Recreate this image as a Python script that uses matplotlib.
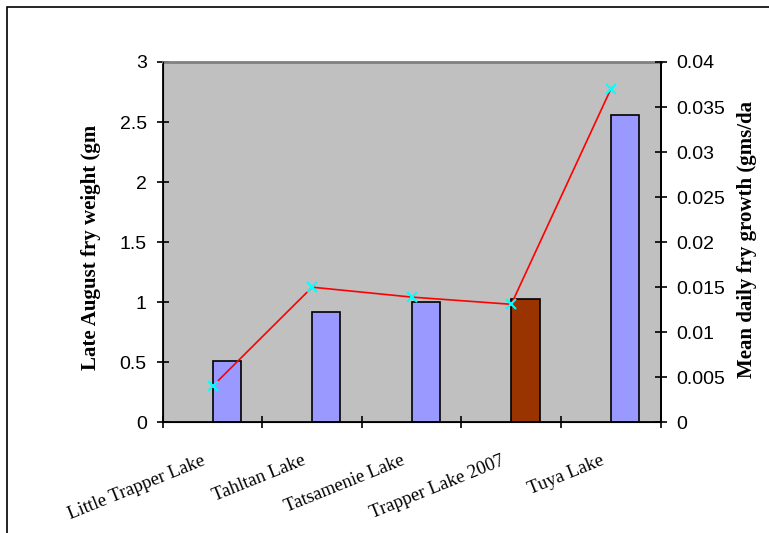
import matplotlib
matplotlib.use("Agg")
import matplotlib.pyplot as plt
from matplotlib.patches import Rectangle

# Lake data
lakes = ["Little Trapper Lake", "Tahltan Lake", "Tatsamenie Lake",
         "Trapper Lake 2007", "Tuya Lake"]
fry_weight = [0.51, 0.92, 1.00, 1.03, 2.56]          # gm, left axis
daily_growth = [0.0040, 0.0150, 0.0139, 0.0131, 0.0370]  # gms/day, right axis
weight_ticks = [0, 0.5, 1, 1.5, 2, 2.5, 3]
weight_tick_labels = ["0", "0.5", "1", "1.5", "2", "2.5", "3"]
growth_ticks = [0, 0.005, 0.01, 0.015, 0.02, 0.025, 0.03, 0.035, 0.04]
growth_tick_labels = ["0", "0.005", "0.01", "0.015", "0.02", "0.025",
                      "0.03", "0.035", "0.04"]

highlight = "Trapper Lake 2007"
bar_colors = ["#993300" if lake == highlight else "#9999FF" for lake in lakes]

SANS = "Liberation Sans"
SERIF = "Liberation Serif"

fig = plt.figure(figsize=(7.69, 5.33), dpi=100)

# outer chart border (runs off right/bottom like the screenshot)
fig.patches.append(Rectangle((7 / 769, -0.1), 1.2, (533 - 7) / 533 + 0.1,
                             transform=fig.transFigure, fill=False,
                             edgecolor="black", linewidth=1.2))

ax = fig.add_axes([0.2116, 0.2077, 0.6475, 0.676])
ax.set_facecolor("#C0C0C0")

x = list(range(len(lakes)))
ax.bar(x, fry_weight, width=0.285, align="edge", color=bar_colors,
       edgecolor="black", linewidth=1.2, zorder=2)

ax.set_xlim(-0.5, len(lakes) - 0.5)
ax.set_ylim(0, 3)
ax.set_yticks(weight_ticks, weight_tick_labels, fontfamily=SANS, fontsize=14)
ax.set_xticks([i - 0.5 for i in range(len(lakes) + 1)], [""] * (len(lakes) + 1))
ax.tick_params(axis="both", direction="inout", length=9, width=1.2, pad=7)

for i, lake in enumerate(lakes):
    ax.text(i - 0.06, -0.117, lake, transform=ax.get_xaxis_transform(),
            rotation=22, rotation_mode="anchor", ha="right", va="baseline",
            fontfamily=SERIF, fontsize=13.5)

for side in ("left", "bottom", "right"):
    ax.spines[side].set_color("black")
    ax.spines[side].set_linewidth(1.3)
ax.spines["top"].set_color("#808080")
ax.spines["top"].set_linewidth(2)

ax2 = ax.twinx()
ax2.plot(x, daily_growth, color="red", linewidth=1.2, marker="x",
         markersize=7, markeredgecolor="#00FFFF", markeredgewidth=1.5,
         zorder=3)
ax2.set_ylim(0, 0.04)
ax2.set_yticks(growth_ticks, growth_tick_labels, fontfamily=SANS, fontsize=14)
ax2.tick_params(axis="y", direction="inout", length=9, width=1.2, pad=7)
ax2.spines["right"].set_color("black")
ax2.spines["right"].set_linewidth(1.3)
ax2.spines["top"].set_visible(False)

fig.text(91 / 769, 1 - 247 / 533, "Late August fry weight (gm",
         rotation=90, ha="center", va="center", fontfamily=SERIF,
         fontweight="bold", fontsize=15)
fig.text(747 / 769, 1 - 239 / 533, "Mean daily fry growth (gms/da",
         rotation=90, ha="center", va="center", fontfamily=SERIF,
         fontweight="bold", fontsize=15)

fig.savefig("out.png", dpi=100)
